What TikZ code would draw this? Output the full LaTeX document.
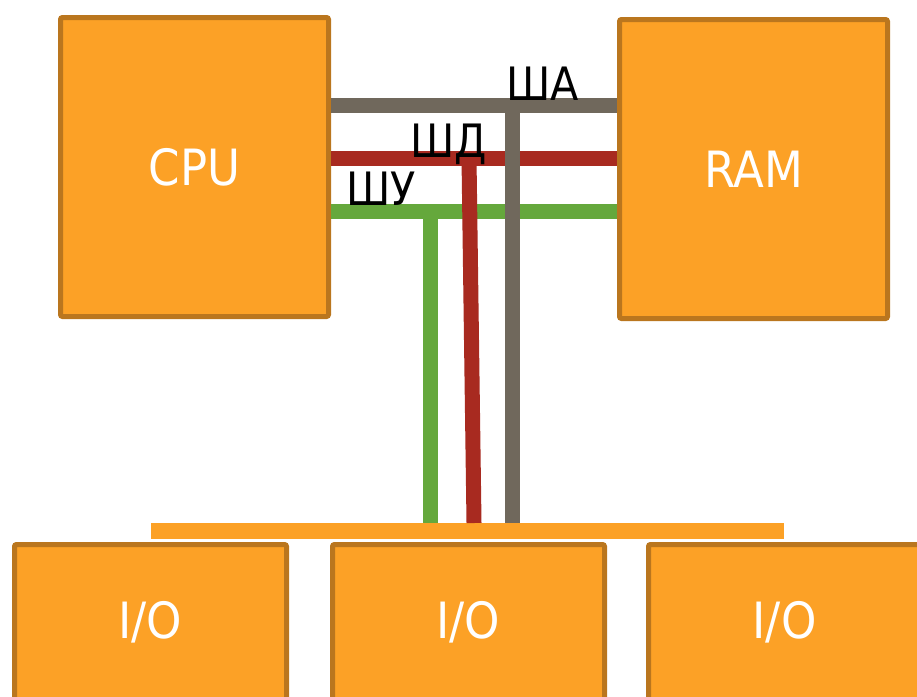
\documentclass[tikz,border=0pt]{standalone}
\usepackage{fontspec}
\setmainfont{DejaVu Sans Condensed}
\usepackage{tikz}
\usetikzlibrary{calc}
\definecolor{boxfill}{RGB}{252,161,38}
\definecolor{boxline}{RGB}{186,118,30}
\definecolor{abuscol}{RGB}{112,104,92}
\definecolor{dbuscol}{RGB}{168,42,32}
\definecolor{cbuscol}{RGB}{101,168,60}

\begin{document}
\begin{tikzpicture}[x=1pt, y=-1pt, node distance=318pt, every node/.style={inner sep=0pt},
        unit/.style={draw=boxline, fill=boxfill, line width=5pt, rounded corners=2pt, minimum width=268pt, minimum height=299pt, text=white, font=\fontsize{50}{60}\selectfont},
        iobox/.style={unit, minimum width=272pt, minimum height=196pt},
        iotext/.style={text=white, anchor=base, font=\fontsize{50}{60}\selectfont},
        bus/.style={line width=15pt},
        buslabel/.style={anchor=base west, font=\fontsize{46}{55}\selectfont}]
        \useasboundingbox (0,0) rectangle (917,696);
        \clip (0,0) rectangle (917,696);

        \node[unit] (cpu) at (194.5,167) {CPU};
        \node[unit, right of=cpu, node distance=559pt, yshift=-2pt] (ram) {RAM};

        \node[fill=boxfill, minimum width=633pt, minimum height=16pt] (iobus) at (467.5,531) {};
        \node[iobox] (io1) at (150.5,642.5) {};
        \node[iobox, right of=io1] (io2) {};
        \node[iobox, right of=io2, node distance=316pt] (io3) {};
        \node[iotext] (io1text) at ($(io1.north)+(0,96)$) {I/O};
        \node[iotext] (io2text) at ($(io2.north)+(0,96)$) {I/O};
        \node[iotext] (io3text) at ($(io3.north)+(0,96)$) {I/O};

        \coordinate (ctap) at (430,211);
        \coordinate (dtap) at (469,158);
        \coordinate (dend) at (474,523);
        \coordinate (atap) at (512,105);

        \draw[bus, cbuscol] (cpu.east |- ctap) -- (ram.west |- ctap);
        \draw[bus, cbuscol] (ctap) -- (ctap |- iobus.north);
        \draw[bus, dbuscol] (cpu.east |- dtap) -- (ram.west |- dtap);
        \draw[bus, dbuscol] (dtap) -- (dend);
        \draw[bus, abuscol] (cpu.east |- atap) -- (ram.west |- atap);
        \draw[bus, abuscol] (atap) -- (atap |- iobus.north);

        \node[buslabel] (sha) at (506,100) {ША};
        \node[buslabel] (shd) at (410,157) {ШД};
        \node[buslabel] (shu) at (346,205) {ШУ};
    \end{tikzpicture}
\end{document}
